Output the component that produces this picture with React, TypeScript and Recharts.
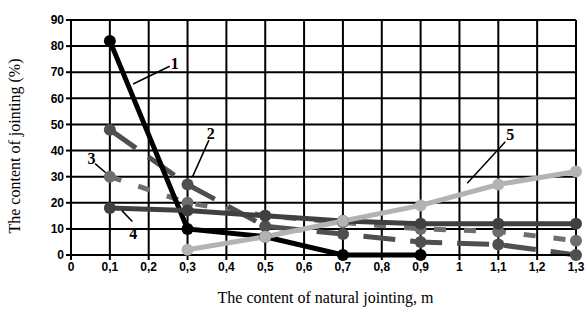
import React from 'react';
import {
  LineChart, Line, XAxis, YAxis, CartesianGrid, ReferenceLine, ReferenceDot
} from 'recharts';

// distances where jointing was measured, m
const distances = [0.1, 0.3, 0.5, 0.7, 0.9, 1.1, 1.3];

// content of jointing (%) per curve, null where the curve has no point
const curve1 = [82, 10, 7, 0, 0, null, null];
const curve2 = [48, 27, 11, 8, 5, 4, 0];
const curve3 = [30, 20, 15, 12.5, 10, 9, 5.5];
const curve4 = [18, 17, 15, 13, 12, 12, 12];
const curve5 = [null, 2, 7, 13, 19, 27, 32];

const xTicks = [0, 0.1, 0.2, 0.3, 0.4, 0.5, 0.6, 0.7, 0.8, 0.9, 1, 1.1, 1.2, 1.3];
const yTicks = [0, 10, 20, 30, 40, 50, 60, 70, 80, 90];

// curve number labels with their leader lines (data coordinates)
const callouts = [
  { name: '1', text: [0.267, 73.5], from: [0.254, 72.3], to: [0.16, 65.5] },
  { name: '2', text: [0.36, 46.5], from: [0.355, 44], to: [0.313, 30] },
  { name: '3', text: [0.053, 37], from: [0.062, 35], to: [0.105, 29.5] },
  { name: '4', text: [0.16, 8.2], from: [0.131, 17], to: [0.158, 12.8] },
  { name: '5', text: [1.131, 46.2], from: [1.118, 43.4], to: [1.02, 27.5] },
];

const rows = distances.map((x, i) => ({
  x,
  c1: curve1[i],
  c2: curve2[i],
  c3: curve3[i],
  c4: curve4[i],
  c5: curve5[i],
}));

const series = [
  { key: 'c3', color: '#6e6e6e', dash: '12 18', width: 5 },
  { key: 'c2', color: '#4f4f4f', dash: '32 15', width: 5 },
  { key: 'c1', color: '#000000', dash: undefined, width: 5 },
  { key: 'c4', color: '#404040', dash: undefined, width: 5 },
  { key: 'c5', color: '#b3b3b3', dash: undefined, width: 5 },
];

const tickFont = { fontSize: 12, fontWeight: 700, fill: '#000', fontFamily: 'Liberation Sans, Arial, sans-serif' };
const titleFont = { fontFamily: '"Liberation Serif", "Times New Roman", serif', fontSize: 16, color: '#000', lineHeight: '18px' };

export default function App() {
  return (
    <div style={{ position: 'absolute', left: 0, top: 0, width: 587, height: 316, background: '#fff' }}>
      <LineChart
        width={587}
        height={316}
        data={rows}
        margin={{ top: 20, right: 11, bottom: 0, left: 0 }}
      >
        <CartesianGrid stroke="#000" strokeWidth={2} horizontal vertical />
        <XAxis
          dataKey="x"
          type="number"
          domain={[0, 1.3]}
          ticks={xTicks}
          interval={0}
          tickFormatter={(v) => String(v).replace('.', ',')}
          tick={tickFont}
          axisLine={{ stroke: '#000', strokeWidth: 2 }}
          tickLine={{ stroke: '#000', strokeWidth: 2 }}
          tickSize={5}
          height={61}
        />
        <YAxis
          type="number"
          domain={[0, 90]}
          ticks={yTicks}
          interval={0}
          tick={tickFont}
          axisLine={{ stroke: '#000', strokeWidth: 2 }}
          tickLine={{ stroke: '#000', strokeWidth: 2 }}
          tickSize={5}
          width={71}
        />
        {series.map((s) => (
          <Line
            key={s.key}
            dataKey={s.key}
            stroke={s.color}
            strokeWidth={s.width}
            strokeDasharray={s.dash}
            dot={{ r: 6, fill: s.color, stroke: 'none', strokeDasharray: '' }}
            activeDot={false}
            isAnimationActive={false}
          />
        ))}
        {callouts.map((c) => (
          <ReferenceLine
            key={'l' + c.name}
            segment={[{ x: c.from[0], y: c.from[1] }, { x: c.to[0], y: c.to[1] }]}
            stroke="#000"
            strokeWidth={1.5}
          />
        ))}
        {callouts.map((c) => (
          <ReferenceDot
            key={'t' + c.name}
            x={c.text[0]}
            y={c.text[1]}
            r={0}
            stroke="none"
            label={{
              value: c.name,
              position: 'center',
              fontFamily: '"Liberation Serif", "Times New Roman", serif',
              fontWeight: 700,
              fontSize: 16,
              fill: '#000',
            }}
          />
        ))}
      </LineChart>
      <div style={{ ...titleFont, position: 'absolute', left: 0, width: 587, top: 289, paddingLeft: 64, boxSizing: 'border-box', textAlign: 'center' }}>
        The content of natural jointing, m
      </div>
      <div
        style={{
          ...titleFont,
          position: 'absolute',
          left: 15,
          top: 146,
          transform: 'translate(-50%, -50%) rotate(-90deg)',
          whiteSpace: 'nowrap',
        }}
      >
        The content of jointing (%)
      </div>
    </div>
  );
}
